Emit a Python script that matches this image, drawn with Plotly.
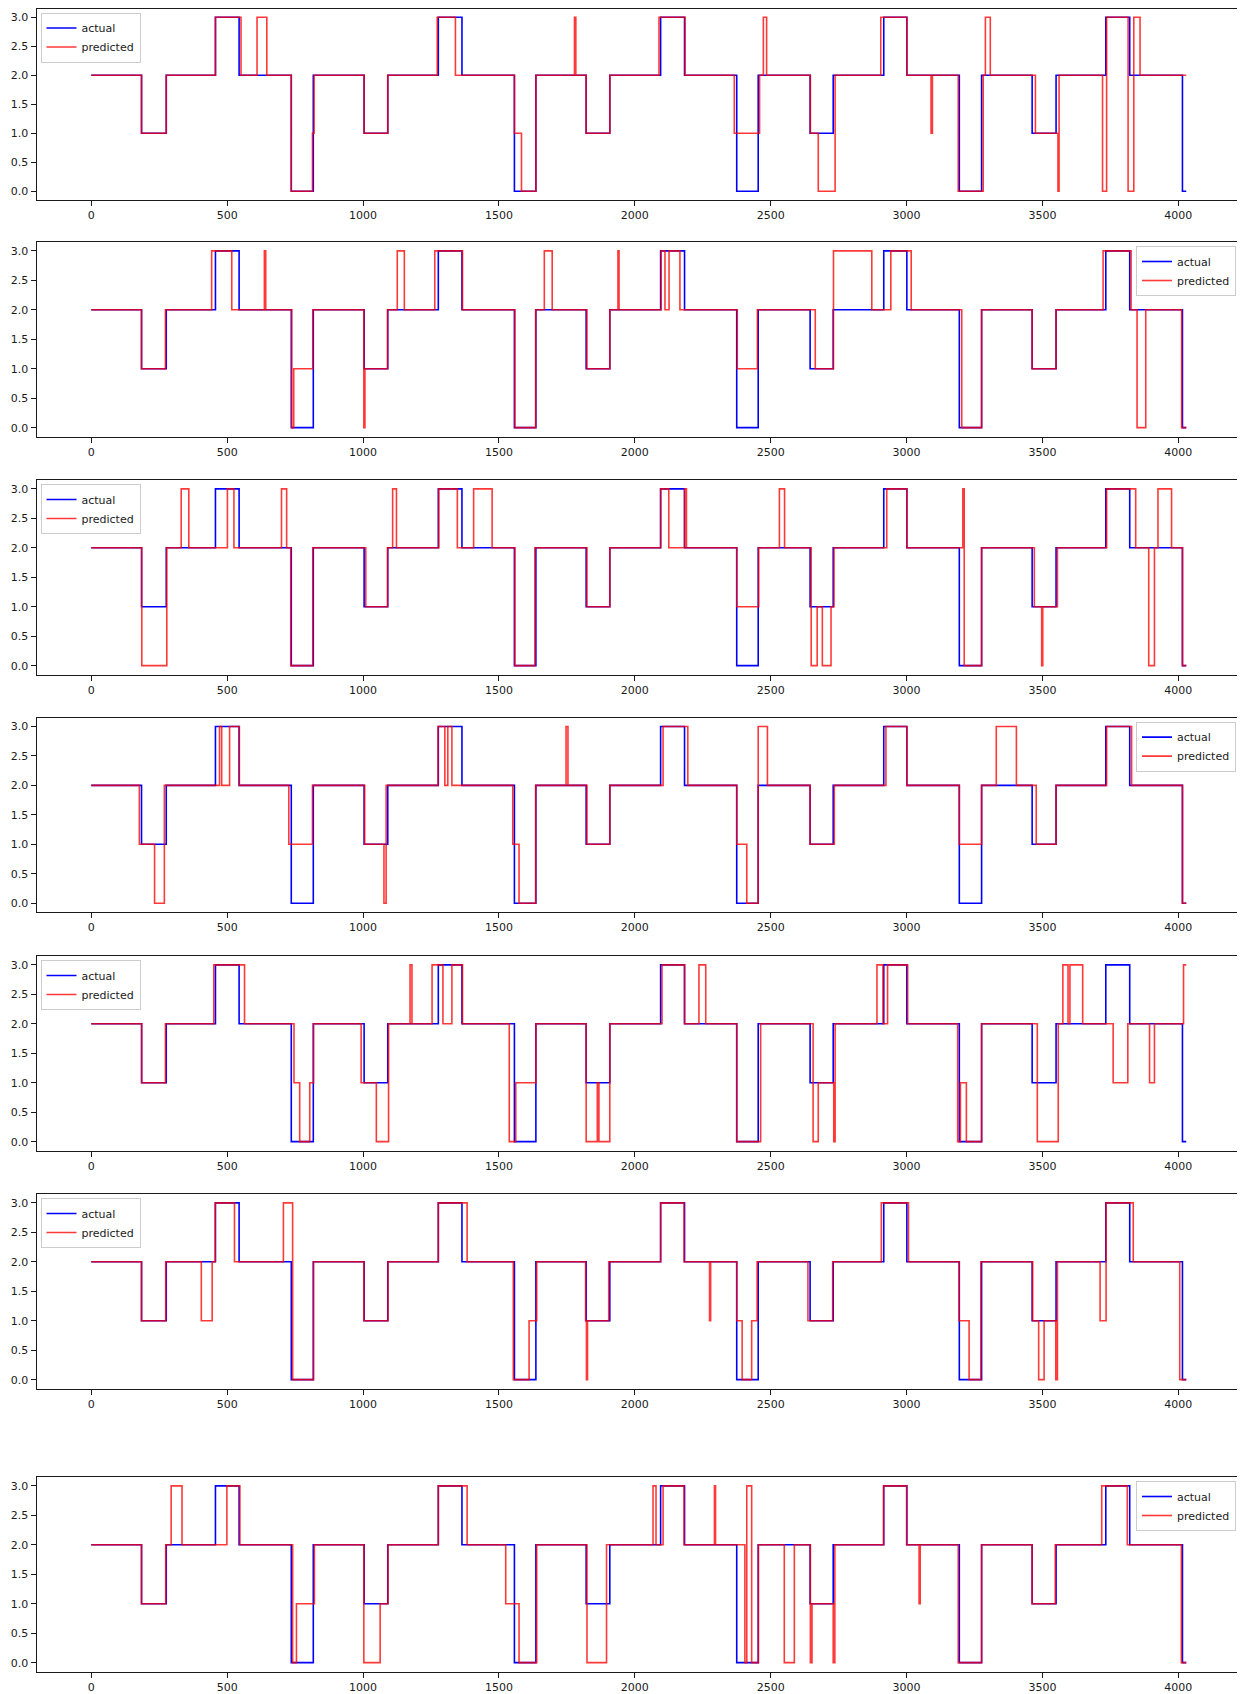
import plotly.graph_objects as go

# ---------------- data (change points of step series) ----------------
actual_x = [0, 185, 276, 457, 544, 736, 817, 1004, 1091, 1277, 1364, 1557, 1636, 1821, 1908,
            2095, 2183, 2375, 2454, 2645, 2730, 2916, 3001, 3194, 3276, 3462, 3550, 3733, 3821, 4015, 4029]
actual_y = [2, 1, 2, 3, 2, 0, 2, 1, 2, 3, 2, 0, 2, 1, 2,
            3, 2, 0, 2, 1, 2, 3, 2, 0, 2, 1, 2, 3, 2, 0, 0]

pred1_x = [0, 185, 276, 457, 551, 610, 646, 736, 814, 820, 1004, 1091, 1273, 1340, 1557, 1583, 1636, 1778, 1783,
           1821, 1908, 2089, 2185, 2366, 2459, 2473, 2485, 2646, 2675, 2737, 2905, 3001, 3090, 3095, 3190, 3282,
           3290, 3308, 3474, 3557, 3561, 3721, 3736, 3815, 3836, 3859, 4029]
pred1_y = [2, 1, 2, 3, 2, 3, 2, 0, 1, 2, 1, 2, 3, 2, 1, 0, 2, 3, 2,
           1, 2, 3, 2, 1, 2, 3, 2, 1, 0, 2, 3, 2, 1, 2, 0, 2,
           3, 2, 1, 0, 2, 0, 3, 0, 3, 2, 2]

pred2_x = [0, 185, 273, 443, 517, 637, 642, 738, 745, 815, 1003, 1007, 1090, 1126, 1152, 1264, 1366, 1559, 1635,
           1667, 1696, 1824, 1908, 1938, 1942, 2097, 2111, 2126, 2166, 2377, 2451, 2664, 2731, 2872, 2942, 3017,
           3203, 3276, 3462, 3550, 3723, 3826, 3848, 3880, 4012, 4029]
pred2_y = [2, 1, 2, 3, 2, 3, 2, 0, 1, 2, 0, 1, 2, 3, 2, 3, 2, 0, 2,
           3, 2, 1, 2, 3, 2, 3, 2, 3, 2, 1, 2, 1, 3, 2, 3, 2,
           0, 2, 1, 2, 3, 2, 0, 2, 0, 0]

pred3_x = [0, 186, 278, 331, 359, 501, 525, 700, 719, 734, 815, 1010, 1090, 1109, 1123, 1279, 1347, 1407, 1475,
           1559, 1632, 1824, 1908, 2095, 2125, 2183, 2190, 2375, 2456, 2532, 2551, 2649, 2671, 2690, 2722, 2733,
           2927, 3001, 3207, 3212, 3276, 3470, 3497, 3501, 3555, 3736, 3843, 3891, 3912, 3925, 3975, 4015, 4029]
pred3_y = [2, 0, 2, 3, 2, 3, 2, 3, 2, 0, 2, 1, 2, 3, 2, 3, 2, 3, 2,
           0, 2, 1, 2, 3, 2, 3, 2, 1, 2, 3, 2, 0, 1, 0, 1, 2,
           3, 2, 3, 0, 2, 1, 0, 1, 2, 3, 2, 0, 2, 3, 2, 0, 0]

pred4_x = [0, 177, 233, 269, 472, 480, 509, 545, 727, 814, 1006, 1077, 1085, 1276, 1301, 1312, 1327, 1551, 1574,
           1635, 1747, 1754, 1824, 1908, 2104, 2195, 2375, 2412, 2454, 2488, 2645, 2734, 2924, 3001, 3194, 3276,
           3330, 3404, 3477, 3550, 3736, 3828, 4015, 4029]
pred4_y = [2, 1, 0, 2, 3, 2, 3, 2, 1, 2, 1, 0, 2, 3, 2, 3, 2, 1, 0,
           2, 3, 2, 1, 2, 3, 2, 1, 0, 3, 2, 1, 2, 3, 2, 1, 2,
           3, 2, 1, 2, 3, 2, 0, 0]

pred5_x = [0, 186, 273, 451, 564, 746, 767, 804, 818, 993, 1049, 1094, 1173, 1180, 1254, 1294, 1327, 1366, 1538,
           1562, 1636, 1821, 1862, 1868, 1908, 2100, 2183, 2236, 2261, 2375, 2463, 2656, 2675, 2732, 2737, 2891,
           2913, 2930, 3004, 3188, 3198, 3220, 3276, 3481, 3558, 3575, 3594, 3601, 3648, 3760, 3814, 3894, 3912,
           4019, 4029]
pred5_y = [2, 1, 2, 3, 2, 1, 0, 1, 2, 1, 0, 2, 3, 2, 3, 2, 3, 2, 0,
           1, 2, 0, 1, 0, 2, 3, 2, 3, 2, 0, 2, 0, 1, 0, 2, 3,
           2, 3, 2, 0, 1, 0, 2, 0, 2, 3, 2, 3, 2, 1, 2, 1, 2,
           3, 3]

pred6_x = [0, 185, 274, 405, 445, 456, 527, 707, 741, 818, 1003, 1092, 1277, 1383, 1553, 1611, 1639, 1819, 1822,
           1826, 1904, 2095, 2181, 2275, 2279, 2375, 2395, 2430, 2450, 2637, 2728, 2907, 3007, 3193, 3230, 3273,
           3464, 3486, 3506, 3549, 3555, 3712, 3734, 3834, 4005, 4029]
pred6_y = [2, 1, 2, 1, 2, 3, 2, 3, 0, 2, 1, 2, 3, 2, 0, 1, 2, 1, 0,
           1, 2, 3, 2, 1, 2, 1, 0, 1, 2, 1, 2, 3, 2, 1, 0, 2,
           1, 0, 1, 0, 2, 1, 3, 2, 0, 0]

pred7_x = [0, 185, 274, 294, 334, 499, 547, 741, 755, 821, 1003, 1063, 1092, 1277, 1383, 1525, 1574, 1639, 1824,
           1896, 2067, 2078, 2104, 2181, 2293, 2297, 2405, 2412, 2430, 2455, 2550, 2587, 2646, 2652, 2730, 2736,
           2915, 3000, 3046, 3050, 3190, 3276, 3462, 3547, 3718, 3812, 4011, 4029]
pred7_y = [2, 1, 2, 3, 2, 3, 2, 0, 1, 2, 0, 1, 2, 3, 2, 1, 0, 2, 0,
           2, 3, 2, 3, 2, 3, 2, 0, 3, 0, 2, 0, 2, 0, 1, 0, 2,
           3, 2, 1, 2, 0, 2, 1, 2, 3, 2, 0, 0]

predicted = [(pred1_x, pred1_y), (pred2_x, pred2_y), (pred3_x, pred3_y), (pred4_x, pred4_y),
             (pred5_x, pred5_y), (pred6_x, pred6_y), (pred7_x, pred7_y)]
legend_side = ["left", "right", "left", "right", "left", "left", "right"]

x_ticks = [0, 500, 1000, 1500, 2000, 2500, 3000, 3500, 4000]
y_ticks = [0.0, 0.5, 1.0, 1.5, 2.0, 2.5, 3.0]
series_names = ["actual", "predicted"]

# ---------------- layout ----------------
# the page body has an 8px margin, so the figure is placed 8px in from the top-left
OFF = 8
W, H = 1245 - OFF, 1694 - OFF
ax_left, ax_right = 36.5 - OFF, 1241 - OFF
ax_tops_page = [5.4, 242, 480, 717.6, 956, 1194, 1477]
ax_bots_page = [t + 194.5 for t in ax_tops_page]
ax_tops = [max(t - OFF, 0.5) for t in ax_tops_page]
ax_bots = [b - OFF for b in ax_bots_page]
x_n = 4029
x_pad = 0.05 * x_n

fig = go.Figure()
layout = dict(width=W, height=H, margin=dict(l=0, r=0, t=0, b=0),
              paper_bgcolor="white", plot_bgcolor="white",
              font=dict(family="DejaVu Sans", size=11, color="#1a1a1a"))

for i, (px, py) in enumerate(predicted):
    k = i + 1
    sx = "" if k == 1 else str(k)
    leg = "legend" if k == 1 else f"legend{k}"
    fig.add_trace(go.Scatter(x=actual_x, y=actual_y, mode="lines", line_shape="hv",
                             line=dict(color="#0000ff", width=1.6), name=series_names[0],
                             xaxis="x" + sx, yaxis="y" + sx, legend=leg))
    fig.add_trace(go.Scatter(x=px, y=py, mode="lines", line_shape="hv",
                             line=dict(color="rgba(255,0,0,0.78)", width=1.6), name=series_names[1],
                             xaxis="x" + sx, yaxis="y" + sx, legend=leg))
    top = ax_tops[i]
    bot = ax_bots[i]
    axis_common = dict(showline=True, mirror=True, linecolor="#1a1a1a", linewidth=1,
                       ticks="outside", ticklen=5, tickwidth=1, tickcolor="#1a1a1a",
                       showgrid=False, zeroline=False, tickfont=dict(size=11, color="#1a1a1a"))
    layout["xaxis" + sx] = dict(domain=[ax_left / W, ax_right / W], anchor="y" + sx,
                                range=[-x_pad, x_n + x_pad], tickvals=x_ticks, **axis_common)
    layout["yaxis" + sx] = dict(domain=[1 - bot / H, 1 - top / H], anchor="x" + sx,
                                range=[-0.15, 3.15], tickvals=y_ticks, tickformat=".1f", **axis_common)
    if legend_side[i] == "left":
        lx, xa = (ax_left + 4) / W, "left"
    else:
        lx, xa = (ax_right - 5) / W, "right"
    layout[leg] = dict(x=lx, xanchor=xa, y=1 - (top + 4) / H, yanchor="top",
                       bgcolor="rgba(255,255,255,0.8)", bordercolor="#cccccc", borderwidth=1,
                       font=dict(size=11, color="#1a1a1a"), itemwidth=30, tracegroupgap=0)

fig.update_layout(**layout)
fig.write_html("out.html")
